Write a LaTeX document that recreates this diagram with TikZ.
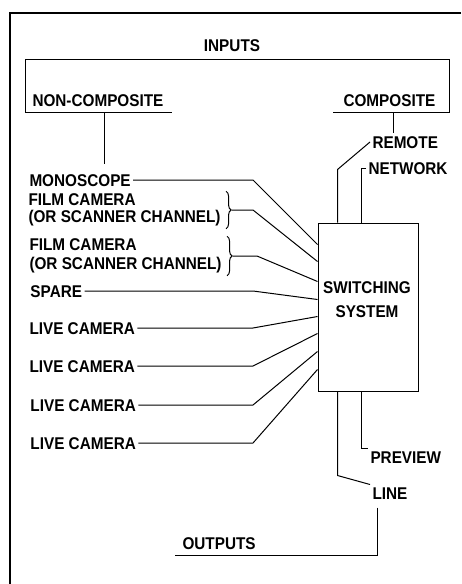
\documentclass[tikz,border=0pt]{standalone}
\usepackage{fontspec}
\setmainfont[FakeStretch=0.9]{Liberation Sans}
\usetikzlibrary{positioning, calc, decorations.pathreplacing}

\begin{document}
\begin{tikzpicture}[
    x=1pt, y=-1pt,
    line width=1pt,
    lbl/.style={font=\fontsize{17}{17}\selectfont\bfseries, inner sep=2pt, text height=12pt, text depth=0pt, anchor=west},
    twoline/.style={font=\fontsize{17}{17}\selectfont\bfseries, inner sep=2pt, align=left, anchor=west},
    brc/.style={decorate, decoration={brace, amplitude=5pt}},
    sysbox/.style={draw, minimum width=100pt, minimum height=168pt, inner sep=0pt}
]
\useasboundingbox (0,0) rectangle (461,584);

% frame
\draw[line width=1.8pt] (461,13) -- (10,13) -- (10,584);

% headings
\node (inp) [lbl, anchor=center] at (232,45) {INPUTS};
\node (nonc) [lbl] at (30,100) {NON-COMPOSITE};
\node (comp) [lbl] at (341,100) {COMPOSITE};
\node (outp) [lbl] at (180,543) {OUTPUTS};

% switching system
\node (sw) [sysbox] at (368,307) {};
\node (swt) [font=\fontsize{17}{24}\selectfont\bfseries, align=center] at (367,300) {SWITCHING\\SYSTEM};

% left inputs
\node (mono) [lbl] at (27,180) {MONOSCOPE};
\node (film1) [twoline] at (26,210) {FILM CAMERA\\(OR SCANNER CHANNEL)};
\node (film2) [twoline] at (27,256) {FILM CAMERA\\[2pt](OR SCANNER CHANNEL)};
\node (spare) [lbl] at (28,291) {SPARE};
\node (live1) [lbl] at (27,328) {LIVE CAMERA};
\node (live2) [lbl] at (27,366) {LIVE CAMERA};
\node (live3) [lbl] at (28,405) {LIVE CAMERA};
\node (live4) [lbl] at (28,443) {LIVE CAMERA};

% right side
\node (rem) [lbl] at (370,142) {REMOTE};
\node (net) [lbl] at (366,168) {NETWORK};
\node (prev) [lbl] at (368,457) {PREVIEW};
\node (lin) [lbl] at (370,493) {LINE};

\coordinate (bx) at (253,0);
\coordinate (top1) at ($(sw.north west)+(20,0)$);
\coordinate (top2) at ($(sw.north west)+(44,0)$);
\coordinate (bot1) at ($(sw.south west)+(20,0)$);
\coordinate (bot2) at ($(sw.south west)+(44,0)$);

% inputs bracket
\draw ([xshift=6pt,yshift=-4pt]nonc.south east) -- ([xshift=-5pt,yshift=-4pt]nonc.south west)
    |- ([yshift=-6pt]inp.south) -| ([xshift=12pt,yshift=-4pt]comp.south east)
    -- ([xshift=-8pt,yshift=-4pt]comp.south west);
\draw ([xshift=7pt,yshift=-4pt]nonc.south) -- ++(0,51);
\draw ([xshift=4pt,yshift=-4pt]comp.south) -- ++(0,20);

% braces
\draw[brc] ([xshift=3pt]film1.north east) -- ([xshift=3pt]film1.south east);
\draw[brc] ([xshift=3pt]film2.north east) -- ([xshift=3pt]film2.south east);

% feeds into the switching system
\draw (mono.east) -- (mono.east -| bx) -- ($(sw.north west)+(0,22)$);
\draw ([xshift=9pt]film1.east) -- (film1.east -| bx) -- ($(sw.north west)+(0,39)$);
\draw ([xshift=9pt]film2.east) -- ([xshift=4pt]film2.east -| bx) -- ($(sw.north west)+(0,59)$);
\draw (spare.east) -- (spare.east -| bx) -- ($(sw.north west)+(0,77)$);
\draw (live1.east) -- (live1.east -| bx) -- ($(sw.north west)+(0,94)$);
\draw (live2.east) -- (live2.east -| bx) -- ($(sw.north west)+(0,111)$);
\draw (live3.east) -- (live3.east -| bx) -- ($(sw.north west)+(0,129)$);
\draw (live4.east) -- (live4.east -| bx) -- ($(sw.north west)+(0,147)$);

\draw (rem.west) -- ($(top1)+(0,-53)$) -- (top1);
\draw (net.west) -- (net.west -| top2) -- (top2);

% outputs
\draw (bot2) -- (bot2 |- prev.north west) -- (prev.north west);
\draw (bot1) -- ++(0,84) -- (lin.north west);
\draw ([xshift=7pt,yshift=-6pt]lin.south west) |- ([xshift=-5pt,yshift=-4pt]outp.south west);
\end{tikzpicture}
\end{document}
